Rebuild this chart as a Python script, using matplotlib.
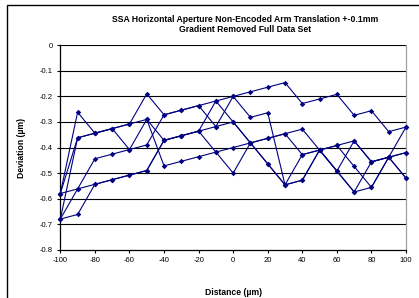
import matplotlib
matplotlib.use("Agg")
import matplotlib.pyplot as plt
from matplotlib.patches import Rectangle

plt.rcParams['font.family'] = ['Liberation Sans', 'DejaVu Sans']

# distance positions (um)
distance = [-100, -90, -80, -70, -60, -50, -40, -30, -20, -10, 0,
            10, 20, 30, 40, 50, 60, 70, 80, 90, 100]

# deviation (um), one list per sweep across the aperture
sweep1 = [-0.58, -0.262, -0.344, -0.326, -0.308, -0.19, -0.272, -0.254, -0.236, -0.218, -0.2,
          -0.182, -0.164, -0.146, -0.228, -0.21, -0.192, -0.274, -0.256, -0.338, -0.32]
sweep2 = [-0.58, -0.362, -0.344, -0.326, -0.308, -0.29, -0.472, -0.454, -0.436, -0.418, -0.5,
          -0.382, -0.364, -0.346, -0.328, -0.41, -0.392, -0.374, -0.456, -0.438, -0.52]
sweep3 = [-0.58, -0.562, -0.544, -0.526, -0.508, -0.49, -0.372, -0.354, -0.336, -0.318, -0.3,
          -0.382, -0.464, -0.546, -0.528, -0.41, -0.492, -0.574, -0.556, -0.438, -0.32]
sweep4 = [-0.68, -0.662, -0.544, -0.526, -0.508, -0.49, -0.372, -0.354, -0.336, -0.418, -0.4,
          -0.382, -0.364, -0.346, -0.428, -0.41, -0.392, -0.474, -0.556, -0.438, -0.42]
sweep5 = [-0.68, -0.362, -0.344, -0.326, -0.408, -0.29, -0.372, -0.354, -0.336, -0.218, -0.3,
          -0.382, -0.464, -0.546, -0.428, -0.41, -0.492, -0.374, -0.456, -0.438, -0.52]
sweep6 = [-0.68, -0.562, -0.444, -0.426, -0.408, -0.39, -0.272, -0.254, -0.236, -0.318, -0.2,
          -0.282, -0.264, -0.546, -0.528, -0.41, -0.492, -0.574, -0.456, -0.438, -0.42]
sweeps = [sweep1, sweep2, sweep3, sweep4, sweep5, sweep6]

x_ticks = [-100, -80, -60, -40, -20, 0, 20, 40, 60, 80, 100]
y_ticks = [0, -0.1, -0.2, -0.3, -0.4, -0.5, -0.6, -0.7, -0.8]

fig = plt.figure(figsize=(4.19, 2.98), dpi=100)
ax = fig.add_axes([0.144, 0.162, 0.825, 0.686])

ax.set_yticks(y_ticks)
for yv in y_ticks[:-1]:
    ax.axhline(yv, color='black', linewidth=0.8, zorder=1)

navy = '#000080'
for s in sweeps:
    ax.plot(distance, s, color=navy, linewidth=0.8, marker='D', markersize=2.8,
            markeredgewidth=0, zorder=3, clip_on=False)

ax.set_xlim(-100, 100)
ax.set_ylim(-0.8, 0)
ax.set_xticks(x_ticks)
ax.set_xticklabels([str(v) for v in x_ticks], fontsize=5.5)
ax.set_yticklabels(['0'] + ['%g' % v for v in y_ticks[1:]], fontsize=5.5)
ax.tick_params(direction='out', length=2.5, width=0.8, pad=3)

ax.spines['left'].set_color('black')
ax.spines['bottom'].set_color('black')
ax.spines['right'].set_color('#a0a0a0')
ax.spines['top'].set_visible(False)
for sp in ax.spines.values():
    sp.set_linewidth(0.9)

ax.set_xlabel('Distance (\u00b5m)', fontsize=6.2, fontweight='bold', labelpad=17)
ax.set_ylabel('Deviation (\u00b5m)', fontsize=6.2, fontweight='bold', labelpad=10)

fig.text(245 / 419, 1 - 20 / 298, 'SSA Horizontal Aperture Non-Encoded Arm Translation +-0.1mm',
         ha='center', va='center', fontsize=6.2, fontweight='bold')
fig.text(245 / 419, 1 - 30 / 298, 'Gradient Removed Full Data Set',
         ha='center', va='center', fontsize=6.2, fontweight='bold')

# chart area border
fig.patches.append(Rectangle((7 / 419, -0.1), 1.2, 1 - 5 / 298 + 0.1,
                             transform=fig.transFigure, fill=False,
                             edgecolor='black', linewidth=1.0))

fig.savefig('out.png', dpi=100)
